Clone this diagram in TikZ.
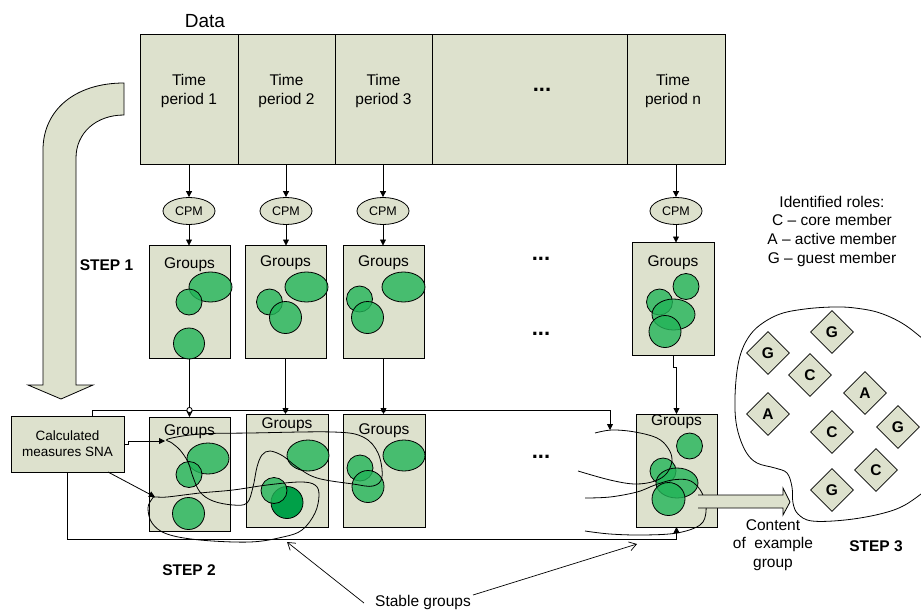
\documentclass[tikz,border=0pt]{standalone}
\usepackage{fontspec}
\setmainfont{Liberation Sans}
\usetikzlibrary{arrows.meta,shapes.geometric,calc}
\definecolor{boxfill}{RGB}{221,225,205}
\definecolor{grn}{RGB}{34,180,88}
\definecolor{grndark}{RGB}{0,160,72}
\begin{document}
\begin{tikzpicture}[x=1pt,y=-1pt,
  box/.style={draw, fill=boxfill, line width=1pt, inner sep=0pt, outer sep=0pt},
  cell/.style={box, minimum height=130pt},
  gbox/.style={box, minimum width=81pt, minimum height=113pt},
  cpm/.style={ellipse, draw, fill=boxfill, line width=0.8pt, minimum width=52pt, minimum height=27pt, inner sep=0pt, font=\fontsize{12.5}{15}\selectfont},
  grp/.style={fill=grn, fill opacity=0.8, draw=black, line width=0.8pt},
  grpdark/.style={fill=grndark, draw=black, line width=0.8pt},
  lbl/.style={font=\fontsize{15.5}{18.8}\selectfont, align=center, inner sep=0pt},
  lblsmall/.style={font=\fontsize{13.5}{16}\selectfont, align=center, inner sep=0pt},
  steplbl/.style={font=\bfseries\fontsize{15.5}{18.8}\selectfont, inner sep=0pt},
  dots/.style={font=\bfseries\fontsize{22}{24}\selectfont, inner sep=0pt},
  role/.style={diamond, draw, fill=boxfill, line width=0.8pt, aspect=1, minimum width=43pt, minimum height=43pt, inner sep=0pt, font=\bfseries\fontsize{15.5}{18}\selectfont},
  arr/.style={-{Triangle[length=6pt,width=6pt]}, line width=0.8pt},
  curve/.style={line width=0.8pt},
  pointer/.style={-{Straight Barb[length=7pt,width=9pt]}, line width=0.7pt},
  bigarr/.style={draw, fill=boxfill, line width=0.8pt}
]
\useasboundingbox (0,0) rectangle (921,613);
\clip (0,0) rectangle (921,613);

% big curved arrow (step 1)
\draw[bigarr] (124,83) .. controls (75,83) and (43,110) .. (43,150) -- (43,385) -- (28,385) -- (61,399) -- (93,385) -- (76,385) -- (76,158) .. controls (76,133) and (96,115) .. (124,115) -- cycle;

% data block
\node[lbl, font=\fontsize{19}{22}\selectfont, anchor=base] (data) at (205,27.5) {Data};
\node[cell, minimum width=98pt] (t1) at (189,99) {};
\node[cell, minimum width=97pt] (t2) at (286.5,99) {};
\node[cell, minimum width=97pt] (t3) at (383.5,99) {};
\node[cell, minimum width=195pt] (t4) at (529.5,99) {};
\node[cell, minimum width=98pt] (tn) at (676,99) {};
\node[lbl] (tx1) at (189,91.3) {Time\\period 1};
\node[lbl] (tx2) at (286.5,91.3) {Time\\period 2};
\node[lbl] (tx3) at (383.5,91.3) {Time\\period 3};
\node[lbl] (txn) at (673,91.3) {Time\\period n};
\node[dots, anchor=base] (d0) at (542,91) {...};

% CPM
\node[cpm] (c1) at (189,211) {CPM};
\node[cpm] (c2) at (286,211) {CPM};
\node[cpm] (c3) at (383,211) {CPM};
\node[cpm] (cn) at (676,211) {CPM};
\draw[arr] (t1.south) -- (c1.north);
\draw[arr] (c2.north |- t2.south) -- (c2.north);
\draw[arr] (c3.north |- t3.south) -- (c3.north);
\draw[arr] (cn.north |- tn.south) -- (cn.north);

% row 1 groups
\node[gbox] (a1) at (189.5,302) {};
\node[gbox] (a2) at (285.5,302) {};
\node[gbox] (a3) at (383.5,302) {};
\node[gbox, minimum width=82pt] (an) at (673,299) {};
\draw[arr] (c1.south) -- (c1.south |- a1.north);
\draw[arr] (c2.south) -- (c2.south |- a2.north);
\draw[arr] (c3.south) -- (c3.south |- a3.north);
\draw[arr] (cn.south) -- (cn.south |- an.north);
\node[lbl, anchor=base] (ga1) at (189.5,268) {Groups};
\node[lbl, anchor=base] (ga2) at (285.5,266) {Groups};
\node[lbl, anchor=base] (ga3) at (383.5,266) {Groups};
\node[lbl, anchor=base] (gan) at (673,266) {Groups};

\draw[grp] (210.5,287) ellipse [x radius=21.5pt, y radius=15pt];
\draw[grp] (189,302) circle [radius=13pt];
\draw[grp] (189,343.5) circle [radius=15.5pt];
\draw[grp] (306.5,287) ellipse [x radius=21.5pt, y radius=15pt];
\draw[grp] (269.5,302) circle [radius=13pt];
\draw[grp] (285.5,317.5) circle [radius=16pt];
\draw[grp] (403.5,287) ellipse [x radius=21.5pt, y radius=15pt];
\draw[grp] (359.5,299) circle [radius=13pt];
\draw[grp] (367.5,317.5) circle [radius=16pt];
\draw[grp] (686,286.5) circle [radius=13pt];
\draw[grp] (659.5,302) circle [radius=13pt];
\draw[grp] (673.5,314.5) ellipse [x radius=21.5pt, y radius=15.5pt];
\draw[grp] (665,331.5) circle [radius=16pt];

\node[steplbl, anchor=base] (s1lbl) at (106.5,270.5) {STEP 1};
\node[dots, anchor=base] (d1) at (541,260) {...};
\node[dots, anchor=base] (d2) at (541,335) {...};

% calculated measures
\node[box, minimum width=113pt, minimum height=56pt] (cm) at (67.5,444) {};
\node[lblsmall] (cmtx) at (67.5,443.5) {Calculated\\measures SNA};

% row 2 groups
\node[gbox, minimum height=114pt] (b1) at (189.5,474) {};
\node[gbox, minimum width=82pt] (b2) at (287,470.5) {};
\node[gbox, minimum width=82pt] (b3) at (384,470.5) {};
\node[gbox] (bn) at (676.5,470.5) {};

% feedback lines
\coordinate (fb1) at ([xshift=24.5pt]cm.north);
\coordinate (tc) at (610,410);
\coordinate (topend) at (610,430);
\draw[arr] (fb1) |- (tc) -- (topend);
\coordinate (bc) at (0,539);
\draw[arr] (cm.south) -- (cm.south |- bc) -| (bn.south);

% row1 -> row2
\draw[arr] (a1.south) -- (a1.south |- b1.north);
\draw[arr] (a2.south) -- (a2.south |- b2.north);
\draw[arr] (a3.south) -- (a3.south |- b3.north);
\draw[arr] (an.south) -- ++(0,12) -| (bn.north);
\draw[line width=0.8pt, fill=white] (189.5,410) circle [radius=2.6pt];
\fill (285.5,410) circle [radius=2.4pt];
\fill (383.5,410) circle [radius=2.4pt];

\node[lbl, anchor=base] (gb1) at (189.5,435) {Groups};
\node[lbl, anchor=base] (gb2) at (287,428) {Groups};
\node[lbl, anchor=base] (gb3) at (384,434) {Groups};
\node[lbl, anchor=base] (gbn) at (676.5,425) {Groups};

\draw[grp] (208,458.5) ellipse [x radius=21pt, y radius=15.5pt];
\draw[grp] (189,474.5) circle [radius=13pt];
\draw[grp] (188.5,513.5) circle [radius=16pt];
\draw[grp] (308,455.5) ellipse [x radius=21pt, y radius=15.5pt];
\draw[grpdark] (287,502.5) circle [radius=16pt];
\draw[grp] (274,490.5) circle [radius=13pt];
\draw[grp] (404,455.5) ellipse [x radius=21pt, y radius=15.5pt];
\draw[grp] (360,468) circle [radius=13pt];
\draw[grp] (368,486.5) circle [radius=16pt];
\draw[grp] (689.5,446) circle [radius=13pt];
\draw[grp] (663,471) circle [radius=13pt];
\draw[grp] (677,483) ellipse [x radius=21pt, y radius=15pt];
\draw[grp] (668.5,499) circle [radius=16.5pt];

\node[dots, anchor=base] (d3) at (541,458) {...};

% arrows from calculated measures
\coordinate (s1) at (165,441);
\coordinate (s2) at (155,497);
\draw[arr] (cm.east) -- ++(4,0) |- (s1);
\draw[arr] ([xshift=-16pt]cm.south east) -- (s2);

% stable group curves
\draw[curve] plot[smooth cycle, tension=0.6] coordinates {(168,439) (200,434) (250,433) (333,432) (363,437) (378,453) (382,477) (373,486) (353,484) (317,478) (297,467) (283,456) (270,451) (262,455) (257,467) (253,487) (247,503) (233,505) (213,501) (200,492) (193,477) (188,462) (180,450) (172,443)};
\draw[curve] plot[smooth cycle, tension=0.6] coordinates {(155,497) (167,497) (200,493) (233,490) (267,485) (300,482) (315,485) (319,495) (315,513) (302,530) (283,537) (250,542) (200,540) (167,534) (152,523) (148,508) (152,499)};
\draw[curve] plot[smooth, tension=0.6] coordinates {(595,433) (612,430) (635,432) (657,438) (668,448) (672,460) (667,473) (655,481) (635,484) (610,480) (578,471)};
\draw[curve] plot[smooth, tension=0.6] coordinates {(585,498) (610,497) (637,492) (655,485) (672,480) (688,480) (698,487) (704,498) (706,512) (700,525) (677,533) (643,535) (610,534) (585,531)};

% block arrow to the roles
\fill[boxfill] (698,495) -- (783,495) -- (783,488) -- (790,502) -- (783,515) -- (783,508) -- (698,508) -- cycle;
\draw[line width=0.8pt] (698,495) -- (783,495) -- (783,488) -- (790,502) -- (783,515) -- (783,508) -- (698,508);

% roles area
\draw[curve] plot[smooth, tension=0.6] coordinates {(930,345) (905,325) (880,313) (855,308) (833,307) (805,309) (780,314) (760,325) (748,338) (740,356) (736,380) (735,410) (738,432) (746,452) (757,463) (775,468) (787,473) (792,487) (793,503) (798,514) (812,521) (845,520) (880,514) (905,505) (930,487)};
\node[role] (r1) at (832,332) {G};
\node[role] (r2) at (768,353) {G};
\node[role] (r3) at (810,375) {C};
\node[role] (r4) at (865,393) {A};
\node[role] (r5) at (768,414) {A};
\node[role] (r6) at (832,432) {C};
\node[role] (r7) at (898,427) {G};
\node[role] (r8) at (876,470) {C};
\node[role] (r9) at (832,490) {G};

\node[lbl] (roles) at (832,231.3) {Identified roles:\\C -- core member\\A -- active member\\G -- guest member};
\node[lbl] (content) at (773,545) {Content\\of\ \ example\\group};
\node[steplbl, anchor=base] (s3lbl) at (876,551.5) {STEP 3};
\node[steplbl, anchor=base] (s2lbl) at (189,575) {STEP 2};

% stable groups pointers
\node[lbl, anchor=base] (stable) at (423,606) {Stable groups};
\coordinate (p1) at (287,542);
\coordinate (p2) at (637,544);
\draw[pointer] (364,603) -- (p1);
\draw[pointer] (473,595) -- (p2);
\end{tikzpicture}
\end{document}
